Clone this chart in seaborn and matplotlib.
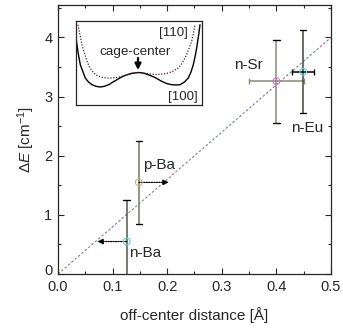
import numpy as np
import pandas as pd
import matplotlib
matplotlib.use("Agg")
import matplotlib.pyplot as plt
import matplotlib.transforms as mtransforms
import seaborn as sns

# --- data ---
labels = ["n-Ba", "p-Ba", "n-Sr", "n-Eu"]
offcenter = [0.126, 0.148, 0.400, 0.449]
delta_e = [0.55, 1.55, 3.26, 3.42]
yerr = [0.70, 0.70, 0.70, 0.70]
xerr = [0.0, 0.0, 0.050, 0.020]
marker_colors = ["#66cccc", "#d4b060", "#e070c0", "#66cccc"]
bar_colors = ["#55554d", "#77776a", "#8a8a78", "#44443c"]
label_pos = [(0.130, 0.36), (0.156, 1.84), (0.322, 3.54), (0.427, 2.47)]
# dotted arrows: start x, end x, y
arrow_start = [0.126, 0.148]
arrow_end = [0.072, 0.203]
arrow_y = [0.55, 1.55]

fit_x = [0.0, 0.5]
fit_y = [0.0, 4.0]

# inset potential curves (schematic, read in inset units)
pot100_x = [76, 78, 80.3, 83, 85.3, 88.5, 92, 96, 100.3, 104.5, 108.7, 113, 117,
            121, 125.3, 131, 138, 143, 148.3, 155, 161.7, 166.5, 171.7, 176, 180,
            184.5, 188.3, 191, 193.3, 195.2, 196.7, 198.5, 200]
pot100_y = [38, 52, 64.7, 72, 78, 82, 84.7, 86.3, 87, 86.3, 84.7, 82, 79.7,
            77.3, 75.3, 73.5, 72.5, 73, 74.7, 77.5, 81.3, 83.5, 84.7, 85, 84.7,
            82, 78, 72, 64.7, 56, 48, 36, 24.7]
pot110_x = [78, 80, 82, 84.5, 87, 90, 93.7, 97.5, 102, 107, 112, 117, 122, 126,
            130.3, 134, 138, 143, 150, 157, 163, 168.3, 173.5, 178.3, 182, 185,
            188.5, 191.7, 193.5, 195]
pot110_y = [24.7, 35, 44.7, 53.5, 61.3, 68, 73, 75.8, 77.3, 78, 78, 77.5, 76.3,
            75.2, 74, 73, 72.5, 73, 74, 74.5, 74, 73, 71, 68, 63.5, 58, 50,
            41.3, 33, 24.7]

df = pd.DataFrame({"x": offcenter, "y": delta_e, "label": labels})

sns.set_style("ticks")
plt.rcParams["font.family"] = ["Liberation Sans", "DejaVu Sans"]
plt.rcParams["mathtext.fontset"] = "custom"
plt.rcParams["mathtext.it"] = "Liberation Sans:italic"
plt.rcParams["mathtext.rm"] = "Liberation Sans"

fig = plt.figure(figsize=(3.43, 3.29), dpi=100)
ax = fig.add_axes([0.169, 0.167, 0.796, 0.818])

# guide line (two-coloured dashes)
ax.plot(fit_x, fit_y, color="#a060b0", lw=0.8, linestyle=(0, (2.2, 5.8)), zorder=1)
ax.plot(fit_x, fit_y, color="#60a060", lw=0.8, linestyle=(4, (2.2, 5.8)), zorder=1)

# error bars
for i in range(len(labels)):
    ax.errorbar(offcenter[i], delta_e[i], yerr=yerr[i], fmt="none",
                ecolor=bar_colors[i], elinewidth=1.1, capsize=0, zorder=2)
    ax.plot([offcenter[i] - 0.006, offcenter[i] + 0.006],
            [delta_e[i] + yerr[i]] * 2, color="black", lw=1.0, zorder=3)
    ax.plot([offcenter[i] - 0.006, offcenter[i] + 0.006],
            [delta_e[i] - yerr[i]] * 2, color="black", lw=1.0, zorder=3)
    if xerr[i] > 0:
        col = "#8a8a78" if i == 2 else "black"
        ax.errorbar(offcenter[i], delta_e[i], xerr=xerr[i], fmt="none",
                    ecolor=col, elinewidth=1.1, capsize=2.5, capthick=1.0, zorder=2)

sns.scatterplot(data=df, x="x", y="y", hue="label", palette=marker_colors,
                marker="o", s=24, linewidth=0.8,
                legend=False, ax=ax, zorder=4)
# make them open circles
pts = ax.collections[-1]
pts.set_edgecolors(pts.get_facecolors())
pts.set_facecolors("none")

for i in range(len(arrow_start)):
    ax.annotate("", xy=(arrow_end[i], arrow_y[i]), xytext=(arrow_start[i], arrow_y[i]),
                arrowprops=dict(arrowstyle="-|>", color="black", lw=0.9,
                                linestyle=(0, (1, 1)), mutation_scale=8,
                                shrinkA=0, shrinkB=0))

for lab, (lx, ly) in zip(labels, label_pos):
    ax.text(lx, ly, lab, fontsize=11, ha="left", va="center")

ax.set_xlim(0, 0.5)
ax.set_ylim(0, 4.55)
ax.set_xticks([0.0, 0.1, 0.2, 0.3, 0.4, 0.5])
ax.set_xticklabels(["0.0", "0.1", "0.2", "0.3", "0.4", "0.5"])
ax.set_yticks([0, 1, 2, 3, 4])
ax.set_xticks(np.arange(0, 0.51, 0.05), minor=True)
ax.set_yticks(np.arange(0, 4.55, 0.5), minor=True)
ax.tick_params(which="both", direction="in", top=True, right=True, labelsize=10.5,
               width=0.8)
ax.tick_params(axis="x", pad=4)
ax.tick_params(axis="y", pad=4)
ax.tick_params(which="major", length=4)
ax.tick_params(which="minor", length=2.5)
for s in ax.spines.values():
    s.set_linewidth(0.9)
ax.set_xlabel("off-center distance [Å]", fontsize=11, labelpad=10)
ax.set_ylabel(r"$\Delta E$ [cm$^{-1}$]", fontsize=11, labelpad=5)

# nudge the y "0" label up a little so it clears "0.0"
zero_lab = ax.get_yticklabels()[0]
zero_lab.set_transform(zero_lab.get_transform() +
                       mtransforms.ScaledTranslation(0, 3 / 72, fig.dpi_scale_trans))

# inset
ins = fig.add_axes([76 / 343, 1 - 105 / 329, 126 / 343, 84 / 329])
ins.plot(pot100_x, pot100_y, color="black", lw=1.0)
ins.plot(pot110_x, pot110_y, color="#442222", lw=0.9, linestyle=(0, (1, 1.3)))
ins.set_xlim(76, 202)
ins.set_ylim(105, 21)
ins.set_xticks([])
ins.set_yticks([])
for s in ins.spines.values():
    s.set_linewidth(0.9)
ins.annotate("", xy=(138, 70), xytext=(138, 58),
             arrowprops=dict(arrowstyle="-|>", color="black", lw=1.6,
                             mutation_scale=9, shrinkA=0, shrinkB=0))
ins.text(135, 52, "cage-center", fontsize=9.7, ha="center", va="center")
ins.text(188, 33, "[110]", fontsize=9.5, ha="right", va="center")
ins.text(198, 97, "[100]", fontsize=9.5, ha="right", va="center")

fig.savefig("out.png", dpi=100)
